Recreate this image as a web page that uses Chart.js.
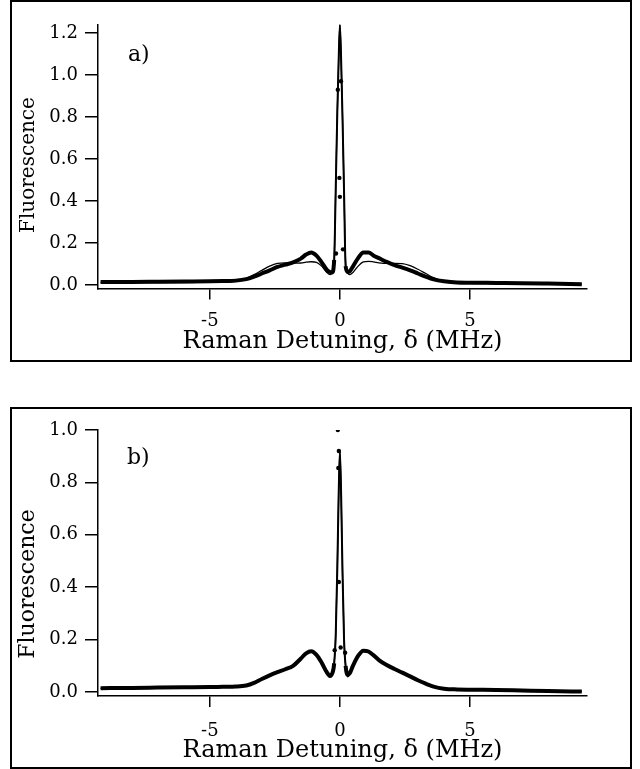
<!DOCTYPE html>
<html>
<head>
<meta charset="utf-8">
<script src="https://cdn.jsdelivr.net/npm/chart.js@4.4.1/dist/chart.umd.min.js"></script>
<style>
    html, body { margin: 0; padding: 0; background: #fff; }
    body { width: 640px; height: 769px; position: relative; overflow: hidden; font-family: 'DejaVu Serif', serif; color: #000; }
    .panel { position: absolute; left: 0; width: 640px; }
    .frame { position: absolute; border: 2px solid #000; box-sizing: border-box; pointer-events: none; }
    .tag { position: absolute; font-size: 22px; line-height: 1; }
    .ytitle { position: absolute; white-space: nowrap; line-height: 1; transform: translate(-50%, -50%) rotate(-90deg); }
</style>
</head>
<body>
<div class="panel" style="top:0;height:380px"><canvas id="chart-a"></canvas></div>
<div class="panel" style="top:380px;height:389px"><canvas id="chart-b"></canvas></div>
<div class="frame" style="left:10px;top:0;width:622px;height:362px"></div>
<div class="frame" style="left:10px;top:407px;width:622px;height:362px"></div>
<div class="tag" style="left:128px;top:43px">a)</div>
<div class="tag" style="left:127px;top:446px">b)</div>
<div class="ytitle" style="left:27px;top:165px;font-size:20px">Fluorescence</div>
<div class="ytitle" style="left:27px;top:584px;font-size:22px">Fluorescence</div>
<script>
const detuning = [-9.2, -8, -7, -6, -5, -4.5, -4, -3.6, -3.3, -3, -2.7, -2.4, -2.1, -1.8, -1.5, -1.3, -1.1, -0.9, -0.7, -0.5, -0.38, -0.3, -0.22, -0.16, -0.1, -0.05, 0, 0.05, 0.1, 0.16, 0.22, 0.3, 0.38, 0.5, 0.7, 0.9, 1.1, 1.3, 1.5, 1.8, 2.1, 2.4, 2.7, 3, 3.3, 3.6, 4, 4.5, 5, 6, 7, 8, 9.3];

// panel a) measured (thick) and calculated (thin) fluorescence
const measuredA = [0.015, 0.015, 0.016, 0.017, 0.018, 0.019, 0.021, 0.028, 0.04, 0.055, 0.07, 0.086, 0.097, 0.108, 0.126, 0.145, 0.155, 0.14, 0.108, 0.072, 0.062, 0.06, 0.12, 0.46, 0.82, 1.06, 1.24, 1.06, 0.8, 0.44, 0.09, 0.062, 0.066, 0.088, 0.128, 0.155, 0.155, 0.14, 0.128, 0.11, 0.095, 0.083, 0.07, 0.055, 0.04, 0.027, 0.018, 0.012, 0.011, 0.01, 0.009, 0.007, 0.004];
const theoryA = [0.012, 0.012, 0.012, 0.012, 0.013, 0.013, 0.017, 0.032, 0.05, 0.07, 0.09, 0.103, 0.106, 0.104, 0.105, 0.109, 0.111, 0.108, 0.09, 0.06, 0.05, 0.058, 0.12, 0.46, 0.82, 1.06, 1.24, 1.06, 0.8, 0.44, 0.11, 0.056, 0.05, 0.06, 0.09, 0.11, 0.113, 0.11, 0.106, 0.103, 0.103, 0.102, 0.092, 0.075, 0.055, 0.035, 0.018, 0.01, 0.008, 0.007, 0.006, 0.005, 0.004];
const dotsAx = [-0.08, 0.04, -0.02, 0.0, -0.15, 0.12];
const dotsAy = [0.93, 0.97, 0.51, 0.42, 0.15, 0.17];

// panel b) measured (thick) and fitted (thin) fluorescence
const measuredB = [0.015, 0.016, 0.017, 0.018, 0.019, 0.02, 0.021, 0.025, 0.035, 0.05, 0.064, 0.076, 0.087, 0.1, 0.128, 0.148, 0.156, 0.142, 0.112, 0.075, 0.062, 0.07, 0.11, 0.22, 0.47, 0.74, 0.92, 0.74, 0.46, 0.2, 0.1, 0.066, 0.072, 0.1, 0.138, 0.158, 0.155, 0.14, 0.122, 0.103, 0.088, 0.074, 0.06, 0.045, 0.032, 0.021, 0.013, 0.01, 0.009, 0.008, 0.006, 0.004, 0.002];
const fitB = [0.014, 0.015, 0.016, 0.017, 0.018, 0.019, 0.02, 0.025, 0.035, 0.05, 0.064, 0.076, 0.087, 0.1, 0.128, 0.148, 0.155, 0.14, 0.108, 0.068, 0.056, 0.064, 0.11, 0.22, 0.47, 0.74, 0.92, 0.74, 0.46, 0.2, 0.1, 0.058, 0.066, 0.096, 0.136, 0.157, 0.155, 0.14, 0.122, 0.103, 0.088, 0.074, 0.06, 0.045, 0.032, 0.021, 0.013, 0.01, 0.009, 0.008, 0.006, 0.004, 0.002];
const dotsBx = [-0.08, -0.04, -0.06, -0.04, 0.03, -0.2, 0.2];
const dotsBy = [1.0, 0.92, 0.855, 0.42, 0.17, 0.16, 0.15];

const xTickValues = [-5, 0, 5];
const yTicksA = [0, 0.2, 0.4, 0.6, 0.8, 1.0, 1.2];
const yTicksB = [0, 0.2, 0.4, 0.6, 0.8, 1.0];

const fontFamily = "'DejaVu Serif', serif";
const ink = '#000';

const toPoints = (xs, ys) => xs.map((x, i) => ({ x, y: ys[i] }));

// the narrow central resonance is traced with a finer pen than the wings
const peakAwareWidth = (ctx) => (Math.abs(ctx.p0.parsed.x) < 0.2 || Math.abs(ctx.p1.parsed.x) < 0.2 ? 2 : 4);

function buildPanel(id, cfg) {
    return new Chart(document.getElementById(id), {
        type: 'scatter',
        data: {
            datasets: [
                {
                    label: 'measured',
                    data: toPoints(detuning, cfg.measured),
                    showLine: true,
                    borderColor: ink,
                    borderWidth: 4,
                    pointRadius: 0,
                    cubicInterpolationMode: 'monotone',
                    segment: { borderWidth: peakAwareWidth },
                },
                {
                    label: 'theory',
                    data: toPoints(detuning, cfg.theory),
                    showLine: true,
                    borderColor: ink,
                    borderWidth: 1.3,
                    pointRadius: 0,
                    cubicInterpolationMode: 'monotone',
                },
                {
                    label: 'points',
                    data: toPoints(cfg.dotsX, cfg.dotsY),
                    showLine: false,
                    pointRadius: 2.2,
                    backgroundColor: ink,
                    borderWidth: 0,
                },
            ],
        },
        options: {
            responsive: true,
            maintainAspectRatio: false,
            animation: false,
            layout: {
                padding: { left: 15, right: 53, top: cfg.padTop, bottom: cfg.padBottom },
            },
            plugins: {
                legend: { display: false },
                tooltip: { enabled: false },
            },
            scales: {
                x: {
                    type: 'linear',
                    min: -9.3,
                    max: 9.5,
                    afterBuildTicks: (scale) => { scale.ticks = xTickValues.map((value) => ({ value })); },
                    afterFit: (scale) => { scale.height = cfg.xHeight; },
                    ticks: {
                        color: ink,
                        padding: cfg.xLabelPad,
                        maxRotation: 0,
                        font: { family: fontFamily, size: 18 },
                        callback: (value) => String(value),
                    },
                    grid: { drawOnChartArea: false, tickLength: 11, color: ink, lineWidth: 1.5 },
                    border: { color: ink, width: 1.5 },
                    title: {
                        display: true,
                        text: 'Raman Detuning, δ (MHz)',
                        color: ink,
                        padding: 0,
                        font: { family: fontFamily, size: 24 },
                    },
                },
                y: {
                    min: cfg.yMin,
                    max: cfg.yMax,
                    afterBuildTicks: (scale) => { scale.ticks = cfg.yTicks.map((value) => ({ value })); },
                    afterFit: (scale) => { scale.width = 83; },
                    ticks: {
                        color: ink,
                        padding: 7,
                        font: { family: fontFamily, size: 18 },
                        callback: (value) => Number(value).toFixed(1),
                    },
                    grid: { drawOnChartArea: false, tickLength: 13, color: ink, lineWidth: 1.5 },
                    border: { color: ink, width: 1.5 },
                },
            },
        },
    });
}

buildPanel('chart-a', {
    measured: measuredA,
    theory: theoryA,
    dotsX: dotsAx,
    dotsY: dotsAy,
    yTicks: yTicksA,
    yMin: -0.016,
    yMax: 1.24,
    padTop: 24.6,
    padBottom: 24,
    xHeight: 67.6,
    xLabelPad: 11,
});

buildPanel('chart-b', {
    measured: measuredB,
    theory: fitB,
    dotsX: dotsBx,
    dotsY: dotsBy,
    yTicks: yTicksB,
    yMin: -0.015,
    yMax: 1.0,
    padTop: 50,
    padBottom: 4.2,
    xHeight: 68.8,
    xLabelPad: 14,
});
</script>
</body>
</html>
